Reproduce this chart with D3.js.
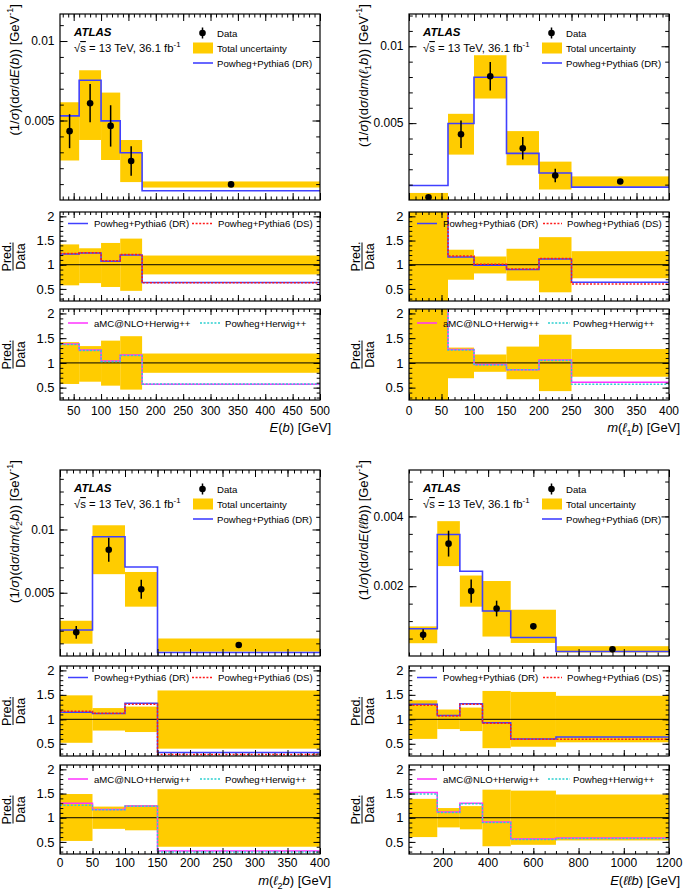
<!DOCTYPE html>
<html><head><meta charset="utf-8">
<script src="https://cdn.jsdelivr.net/npm/d3@7"></script>
<style>body{margin:0;background:#fff} svg{font-family:"Liberation Sans",Arial,Helvetica,sans-serif}</style>
</head><body><svg id="c" width="685" height="890"></svg>
<script>
// ---------- DATA ----------
// Panel A: E(b)
const ebEdges=[25,60,100,135,175,500];
const ebData=[4.33e-3,6.09e-3,4.66e-3,2.45e-3,0.98e-3];
const ebErr=[1.07e-3,1.2e-3,1.3e-3,0.93e-3,0.04e-3];
const ebUncUp=[1.42,1.34,1.45,1.54,1.19];
const ebUncDn=[0.574,0.62,0.54,0.46,0.80];
const ebMC=[5.29e-3,7.53e-3,4.98e-3,2.97e-3,0.58e-3];
const ebDR=[1.22,1.24,1.07,1.20,0.63];
const ebDS=[1.23,1.245,1.08,1.21,0.625];
const ebAMC=[1.38,1.26,1.04,1.16,0.57];
const ebPH=[1.37,1.25,1.03,1.15,0.575];
// Panel B: m(l1 b)
const m1Edges=[0,60,100,150,200,250,400];
const m1Data=[0.18e-3,4.28e-3,8.05e-3,3.37e-3,1.59e-3,1.20e-3];
const m1Err=[0.05e-3,0.89e-3,0.93e-3,0.73e-3,0.44e-3,0.06e-3];
const m1UncUp=[2.55,1.31,1.17,1.33,1.57,1.28];
const m1UncDn=[-1,0.69,0.82,0.67,0.43,0.72];
const m1MC=[0.94e-3,4.98e-3,7.99e-3,3.03e-3,1.76e-3,0.84e-3];
const m1DR=[5.2,1.16,0.99,0.90,1.12,0.64];
const m1DS=[5.2,1.18,1.01,0.91,1.13,0.60];
const m1AMC=[5.0,1.27,0.97,0.86,1.06,0.61];
const m1PH=[5.0,1.26,0.96,0.86,1.05,0.57];
// Panel C: m(l2 b)
const m2Edges=[0,50,100,150,400];
const m2Data=[1.87e-3,8.40e-3,5.27e-3,0.87e-3];
const m2Err=[0.5e-3,0.95e-3,0.75e-3,0.04e-3];
const m2UncUp=[1.49,1.23,1.26,1.59];
const m2UncDn=[0.52,0.77,0.74,0.40];
const m2MC=[2.05e-3,9.43e-3,7.03e-3,0.28e-3];
const m2DR=[1.145,1.12,1.33,0.32];
const m2DS=[1.165,1.125,1.31,0.28];
const m2AMC=[1.30,1.17,1.24,0.31];
const m2PH=[1.26,1.165,1.235,0.29];
// Panel D: E(ll b)
const ellEdges=[50,175,275,375,500,700,1200];
const ellData=[0.61e-3,3.22e-3,1.86e-3,1.36e-3,0.85e-3,0.19e-3];
const ellErr=[0.155e-3,0.37e-3,0.335e-3,0.225e-3,0.08e-3,0.02e-3];
const ellUncUp=[1.39,1.20,1.24,1.58,1.56,1.48];
const ellUncDn=[0.60,0.80,0.76,0.41,0.44,0.53];
const ellMC=[0.78e-3,3.48e-3,2.43e-3,1.29e-3,0.53e-3,0.13e-3];
const ellDR=[1.31,1.08,1.32,0.93,0.60,0.64];
const ellDS=[1.29,1.07,1.31,0.92,0.59,0.59];
const ellAMC=[1.52,1.12,1.30,0.91,0.56,0.58];
const ellPH=[1.49,1.11,1.29,0.90,0.55,0.57];

const ratioTicks=[0.5,1,1.5,2];
const legendMain=["Data","Total uncertainty","Powheg+Pythia6 (DR)"];
const legendR1=["Powheg+Pythia6 (DR)","Powheg+Pythia6 (DS)"];
const legendR2=["aMC@NLO+Herwig++","Powheg+Herwig++"];

// ---------- LAYOUT ----------
const cols={L:[60,320],R:[409,669]};
const rows={
  top:{main:[14,200],r1:[212,301],r2:[309,400],lab:415,title:432},
  bot:{main:[470,656],r1:[666,756],r2:[765,854],lab:867,title:885}
};
const C={band:"#ffcc00",dr:"#4040ff",ds:"#ff1a1a",amc:"#ff33ff",ph:"#2ccfd0"};
const rDom=[0.25,2.09];

const svg=d3.select("#c");
const defs=svg.append("defs");
let clipN=0;
function clip(x0,y0,x1,y1){
  const id="cp"+(clipN++);
  defs.append("clipPath").attr("id",id).append("rect")
    .attr("x",x0).attr("y",y0).attr("width",x1-x0).attr("height",y1-y0);
  return `url(#${id})`;
}
function range(a,b,s){const o=[];for(let v=a;v<=b+1e-9;v+=s)o.push(+v.toFixed(6));return o;}

function axes(g,x,y,xl,xr,yt,yb,xMaj,xMin,yMaj,yMin,lx,ly){
  const mk=(ax,tr,vals,len)=>{
    const a=g.append("g").attr("transform",tr).call(ax.tickValues(vals).tickSize(-len).tickFormat(""));
    a.select(".domain").remove();
    a.selectAll("line").attr("stroke","#000").attr("stroke-width",1);
  };
  mk(d3.axisBottom(x),`translate(0,${yb})`,xMaj,lx[0]);
  mk(d3.axisBottom(x),`translate(0,${yb})`,xMin,lx[1]);
  mk(d3.axisTop(x),`translate(0,${yt})`,xMaj,lx[0]);
  mk(d3.axisTop(x),`translate(0,${yt})`,xMin,lx[1]);
  mk(d3.axisLeft(y),`translate(${xl},0)`,yMaj,ly[0]);
  mk(d3.axisLeft(y),`translate(${xl},0)`,yMin,ly[1]);
  mk(d3.axisRight(y),`translate(${xr},0)`,yMaj,ly[0]);
  mk(d3.axisRight(y),`translate(${xr},0)`,yMin,ly[1]);
  g.append("rect").attr("x",xl).attr("y",yt).attr("width",xr-xl).attr("height",yb-yt)
    .attr("fill","none").attr("stroke","#000").attr("stroke-width",1.2);
}
function stepPath(x,y,edges,vals){
  const pts=vals.map((v,i)=>[edges[i],v]);
  pts.push([edges[edges.length-1],vals[vals.length-1]]);
  return d3.line().x(d=>x(d[0])).y(d=>y(d[1])).curve(d3.curveStepAfter)(pts);
}
function addRich(t,parts,fs){
  let shift=0;
  parts.forEach(p=>{
    const s=t.append("tspan").text(p.t);
    let dy=0;
    if(p.i) s.attr("font-style","italic");
    if(p.sup){ s.attr("font-size",fs*0.7); dy=-0.42*fs; }
    else if(p.sub){ s.attr("font-size",fs*0.7); dy=0.28*fs; }
    const want=dy; const d=want-shift; shift=want;
    if(Math.abs(d)>1e-6) s.attr("dy",d);
    if(p.ov) s.style("text-decoration","overline");
  });
}

function panel(P){
  const [xl,xr]=cols[P.col]; const R=rows[P.row];
  const x=d3.scaleLinear().domain(P.xDom).range([xl,xr]);
  const mids=P.edges.slice(0,-1).map((e,i)=>(e+P.edges[i+1])/2);
  const g=svg.append("g");
  // ---- main ----
  const [mt,mb]=R.main;
  const y=d3.scaleLinear().domain([0,P.yMax]).range([mb,mt]);
  const gm=g.append("g").attr("clip-path",clip(xl,mt,xr,mb));
  gm.selectAll("rect.b").data(P.data).join("rect")
    .attr("x",(d,i)=>x(P.edges[i])).attr("width",(d,i)=>x(P.edges[i+1])-x(P.edges[i]))
    .attr("y",(d,i)=>y(d*P.up[i])).attr("height",(d,i)=>y(d*P.dn[i])-y(d*P.up[i]))
    .attr("fill",C.band);
  gm.append("path").attr("d",stepPath(x,y,P.edges,P.mc)).attr("fill","none").attr("stroke",C.dr).attr("stroke-width",1.6);
  gm.selectAll("line.e").data(P.data).join("line")
    .attr("x1",(d,i)=>x(mids[i])).attr("x2",(d,i)=>x(mids[i]))
    .attr("y1",(d,i)=>y(d+P.err[i])).attr("y2",(d,i)=>y(d-P.err[i]))
    .attr("stroke","#000").attr("stroke-width",1.5);
  gm.selectAll("circle").data(P.data).join("circle")
    .attr("cx",(d,i)=>x(mids[i])).attr("cy",d=>y(d)).attr("r",3.3).attr("fill","#000");
  axes(g,x,y,xl,xr,mt,mb,P.xMaj,P.xMin,P.yMaj,P.yMin,[7,3.5],[7.5,3.8]);
  g.selectAll("text.yl").data(P.yMaj).join("text")
    .attr("x",xl-5.5).attr("y",d=>y(d)+4.2).attr("text-anchor","end").attr("font-size",12).text(P.yFmt);
  // y title
  const yt=g.append("text").attr("transform",`translate(${xl-41.5},${mt-10}) rotate(-90)`)
    .attr("text-anchor","end").attr("font-size",13);
  addRich(yt,P.yTitle,13);
  // ATLAS labels
  g.append("text").attr("x",xl+14).attr("y",mt+22).attr("font-size",11.5).attr("font-weight","bold").attr("font-style","italic").text("ATLAS");
  const ss=g.append("text").attr("x",xl+14).attr("y",mt+38).attr("font-size",11.3);
  addRich(ss,[{t:"√"},{t:"s",ov:true},{t:" = 13 TeV, 36.1 fb"},{t:"-1",sup:true}],11.3);
  // legend
  const lx=xl+133, ly=[mt+19,mt+34,mt+49];
  g.append("line").attr("x1",lx+9.5).attr("x2",lx+9.5).attr("y1",ly[0]-5.5).attr("y2",ly[0]+5.5).attr("stroke","#000").attr("stroke-width",1.5);
  g.append("circle").attr("cx",lx+9.5).attr("cy",ly[0]).attr("r",3.3);
  g.append("rect").attr("x",lx).attr("y",ly[1]-5.5).attr("width",20).attr("height",11).attr("fill",C.band);
  g.append("line").attr("x1",lx).attr("x2",lx+20).attr("y1",ly[2]).attr("y2",ly[2]).attr("stroke",C.dr).attr("stroke-width",1.6);
  legendMain.forEach((t,i)=>g.append("text").attr("x",lx+24).attr("y",ly[i]+3.5).attr("font-size",9.6).text(t));

  // ---- ratio panels ----
  [["r1",[P.dr,P.ds],[C.dr,C.ds],["",  "2,1.6"],legendR1,11.5],
   ["r2",[P.amc,P.ph],[C.amc,C.ph],["","2,1.6"],legendR2,14]].forEach(([key,series,cols_,dash,leg,legOff],k)=>{
    const [rt,rb]=R[key];
    const yr=d3.scaleLinear().domain(rDom).range([rb,rt]);
    const gr=g.append("g").attr("clip-path",clip(xl,rt,xr,rb));
    gr.selectAll("rect").data(P.data).join("rect")
      .attr("x",(d,i)=>x(P.edges[i])).attr("width",(d,i)=>x(P.edges[i+1])-x(P.edges[i]))
      .attr("y",(d,i)=>yr(P.up[i])).attr("height",(d,i)=>yr(P.dn[i])-yr(P.up[i]))
      .attr("fill",C.band);
    gr.append("line").attr("x1",xl).attr("x2",xr).attr("y1",yr(1)).attr("y2",yr(1)).attr("stroke","#000").attr("stroke-width",1);
    series.forEach((s,j)=>{
      gr.append("path").attr("d",stepPath(x,yr,P.edges,s)).attr("fill","none")
        .attr("stroke",cols_[j]).attr("stroke-width",1.5).attr("stroke-dasharray",dash[j]||null);
    });
    axes(g,x,yr,xl,xr,rt,rb,P.xMaj,P.xMin,ratioTicks,range(0.3,2.0,0.1),[6,3],[6.5,3.3]);
    g.selectAll("text.rl"+key).data(ratioTicks).join("text")
      .attr("x",xl-5.5).attr("y",d=>yr(d)+4.6).attr("text-anchor","end").attr("font-size",13).text(d=>d);
    // Pred./Data
    const cy=(rt+rb)/2;
    const pd=g.append("g").attr("transform",`translate(${xl-49},${cy}) rotate(-90)`);
    pd.append("text").attr("x",0).attr("y",-0.5).attr("text-anchor","middle").attr("font-size",12.5).text("Pred.");
    pd.append("line").attr("x1",-14).attr("x2",14).attr("y1",2).attr("y2",2).attr("stroke","#000").attr("stroke-width",1);
    pd.append("text").attr("x",0).attr("y",13.5).attr("text-anchor","middle").attr("font-size",12.5).text("Data");
    // legend
    const lyy=rt+legOff;
    const l1=[xl+8,xl+28,xl+34];
    const l2=k===0?(P.col==="L"?[xl+132,xl+152,xl+158]:[xl+134,xl+153,xl+158]):(P.col==="L"?[xl+140,xl+160,xl+165]:[xl+139,xl+161,xl+164]);
    [l1,l2].forEach((p,j)=>{
      g.append("line").attr("x1",p[0]).attr("x2",p[1]).attr("y1",lyy).attr("y2",lyy)
        .attr("stroke",cols_[j]).attr("stroke-width",1.5).attr("stroke-dasharray",dash[j]||null);
      g.append("text").attr("x",p[2]).attr("y",lyy+3.5).attr("font-size",9.6).text(leg[j]);
    });
    if(key==="r2"){
      g.selectAll("text.xl").data(P.xLab).join("text")
        .attr("x",d=>x(d)).attr("y",R.lab).attr("text-anchor","middle").attr("font-size",12).text(d=>d);
      const xt=g.append("text").attr("x",xr+11).attr("y",R.title).attr("text-anchor","end").attr("font-size",13);
      addRich(xt,P.xTitle,13);
    }
  });
}

const sig=[{t:"(1/"},{t:"σ",i:true},{t:")(d"},{t:"σ",i:true},{t:"/d"}];
const gev=[{t:") [GeV"},{t:"-1",sup:true},{t:"]"}];

panel({col:"L",row:"top",edges:ebEdges,data:ebData,err:ebErr,up:ebUncUp,dn:ebUncDn,mc:ebMC,
  dr:ebDR,ds:ebDS,amc:ebAMC,ph:ebPH,xDom:[25,500],yMax:0.0117,
  xMaj:range(50,500,50),xMin:range(30,500,10),yMaj:[0.005,0.01],yMin:range(0.001,0.011,0.001),
  yFmt:d=>d===0.01?"0.01":"0.005",xLab:range(50,500,50),
  yTitle:[...sig,{t:"E",i:true},{t:"("},{t:"b",i:true},{t:")"},...gev],
  xTitle:[{t:"E",i:true},{t:"("},{t:"b",i:true},{t:") [GeV]"}]});
panel({col:"R",row:"top",edges:m1Edges,data:m1Data,err:m1Err,up:m1UncUp,dn:m1UncDn,mc:m1MC,
  dr:m1DR,ds:m1DS,amc:m1AMC,ph:m1PH,xDom:[0,400],yMax:0.0121,
  xMaj:range(0,400,50),xMin:range(0,400,10),yMaj:[0.005,0.01],yMin:range(0.001,0.012,0.001),
  yFmt:d=>d===0.01?"0.01":"0.005",xLab:range(0,400,50),
  yTitle:[...sig,{t:"m",i:true},{t:"("},{t:"ℓ",i:true},{t:"1",sub:true},{t:"b",i:true},{t:")"},...gev],
  xTitle:[{t:"m",i:true},{t:"("},{t:"ℓ",i:true},{t:"1",sub:true},{t:"b",i:true},{t:") [GeV]"}]});
panel({col:"L",row:"bot",edges:m2Edges,data:m2Data,err:m2Err,up:m2UncUp,dn:m2UncDn,mc:m2MC,
  dr:m2DR,ds:m2DS,amc:m2AMC,ph:m2PH,xDom:[0,400],yMax:0.0147,
  xMaj:range(0,400,50),xMin:range(0,400,10),yMaj:[0.005,0.01],yMin:range(0.001,0.014,0.001),
  yFmt:d=>d===0.01?"0.01":"0.005",xLab:range(0,400,50),
  yTitle:[...sig,{t:"m",i:true},{t:"("},{t:"ℓ",i:true},{t:"2",sub:true},{t:"b",i:true},{t:")"},...gev],
  xTitle:[{t:"m",i:true},{t:"("},{t:"ℓ",i:true},{t:"2",sub:true},{t:"b",i:true},{t:") [GeV]"}]});
panel({col:"R",row:"bot",edges:ellEdges,data:ellData,err:ellErr,up:ellUncUp,dn:ellUncDn,mc:ellMC,
  dr:ellDR,ds:ellDS,amc:ellAMC,ph:ellPH,xDom:[50,1200],yMax:0.00533,
  xMaj:range(200,1200,200),xMin:range(50,1200,50),yMaj:[0.002,0.004],yMin:range(0.0005,0.005,0.0005),
  yFmt:d=>d===0.004?"0.004":"0.002",xLab:range(200,1200,200),
  yTitle:[...sig,{t:"E",i:true},{t:"("},{t:"ℓℓ",i:true},{t:"b",i:true},{t:")"},...gev],
  xTitle:[{t:"E",i:true},{t:"("},{t:"ℓℓ",i:true},{t:"b",i:true},{t:") [GeV]"}]});
</script></body></html>
